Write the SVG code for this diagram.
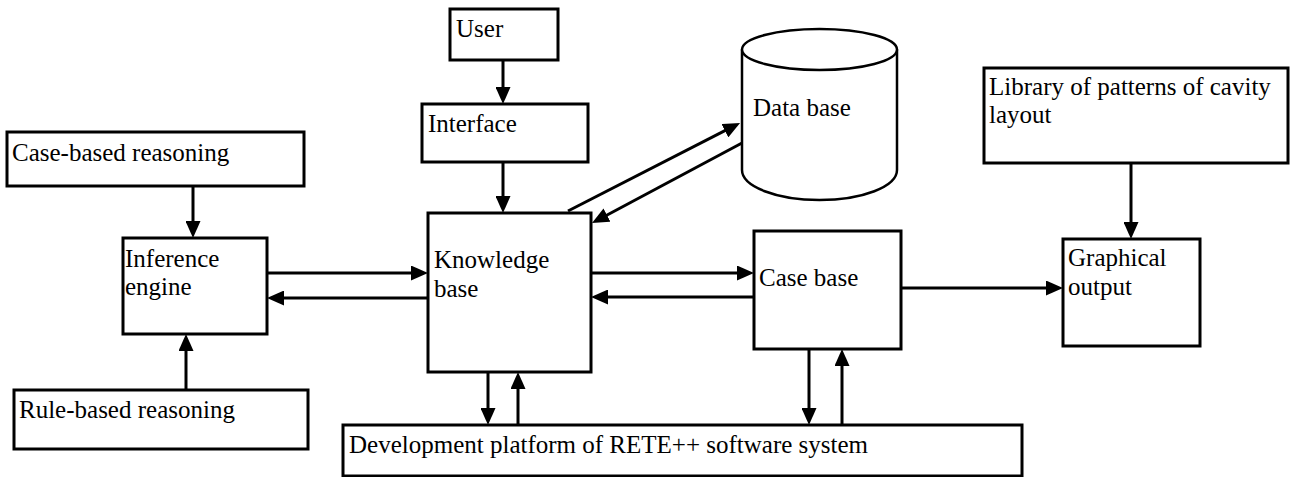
<svg xmlns="http://www.w3.org/2000/svg" width="1291" height="477" viewBox="0 0 1291 477">
<style>
.box{fill:#fff;stroke:#000;stroke-width:3}
.cyl{fill:#fff;stroke:#000;stroke-width:2.5}
.lbl{font-family:"Liberation Serif","Times New Roman",serif;font-size:25px;fill:#000}
.conn line{stroke:#000;stroke-width:3;marker-end:url(#ah)}
</style>
<defs>
<marker id="ah" markerUnits="userSpaceOnUse" markerWidth="17" markerHeight="15" refX="11" refY="7.5" orient="auto">
<path d="M0,0 L17,7.5 L0,15 Z" fill="#000"/>
</marker>
</defs>
<rect width="1291" height="477" fill="#fff"/>
<g id="user"><rect class="box" x="450" y="9" width="108" height="51"/><text class="lbl" x="456" y="37">User</text></g>
<g id="interface"><rect class="box" x="422" y="104" width="166" height="58"/><text class="lbl" x="428" y="132">Interface</text></g>
<g id="knowledge-base"><rect class="box" x="428" y="213" width="163" height="159"/><text class="lbl" x="434" y="268">Knowledge</text><text class="lbl" x="434" y="297">base</text></g>
<g id="data-base"><path class="cyl" d="M742,49.5 L742,170 A77.5,30 0 0 0 897,170 L897,49.5"/><ellipse class="cyl" cx="819.5" cy="49.5" rx="77.5" ry="20.5"/><text class="lbl" x="753" y="116">Data base</text></g>
<g id="case-based-reasoning"><rect class="box" x="7" y="132" width="297" height="54"/><text class="lbl" x="12" y="161">Case-based reasoning</text></g>
<g id="inference-engine"><rect class="box" x="123" y="238" width="144" height="96"/><text class="lbl" x="125" y="267">Inference</text><text class="lbl" x="125" y="295">engine</text></g>
<g id="rule-based-reasoning"><rect class="box" x="14" y="390" width="294" height="59"/><text class="lbl" x="19" y="418">Rule-based reasoning</text></g>
<g id="development-platform"><rect class="box" x="343" y="425" width="679" height="51"/><text class="lbl" x="349" y="453">Development platform of RETE++ software system</text></g>
<g id="case-base"><rect class="box" x="754" y="231" width="147" height="118"/><text class="lbl" x="759" y="286">Case base</text></g>
<g id="library"><rect class="box" x="984" y="68" width="304" height="95"/><text class="lbl" x="989" y="95">Library of patterns of cavity</text><text class="lbl" x="989" y="123">layout</text></g>
<g id="graphical-output"><rect class="box" x="1063" y="239" width="137" height="107"/><text class="lbl" x="1068" y="266">Graphical</text><text class="lbl" x="1068" y="295">output</text></g>
<g id="connectors" class="conn">
<line x1="503" y1="60" x2="503" y2="98"/>
<line x1="503" y1="162" x2="503" y2="207"/>
<line x1="193" y1="186" x2="193" y2="232"/>
<line x1="186" y1="390" x2="186" y2="340"/>
<line x1="267" y1="273" x2="422" y2="273"/>
<line x1="428" y1="298" x2="273" y2="298"/>
<line x1="591" y1="273" x2="748" y2="273"/>
<line x1="754" y1="297" x2="597" y2="297"/>
<line x1="488" y1="372" x2="488" y2="419"/>
<line x1="518" y1="425" x2="518" y2="378"/>
<line x1="809" y1="349" x2="809" y2="419"/>
<line x1="842" y1="425" x2="842" y2="355"/>
<line x1="901" y1="288" x2="1057" y2="288"/>
<line x1="1131" y1="163" x2="1131" y2="233"/>
<line x1="568" y1="211" x2="734.7" y2="125.7"/>
<line x1="742" y1="143" x2="597.3" y2="220.2"/>
</g>
</svg>
